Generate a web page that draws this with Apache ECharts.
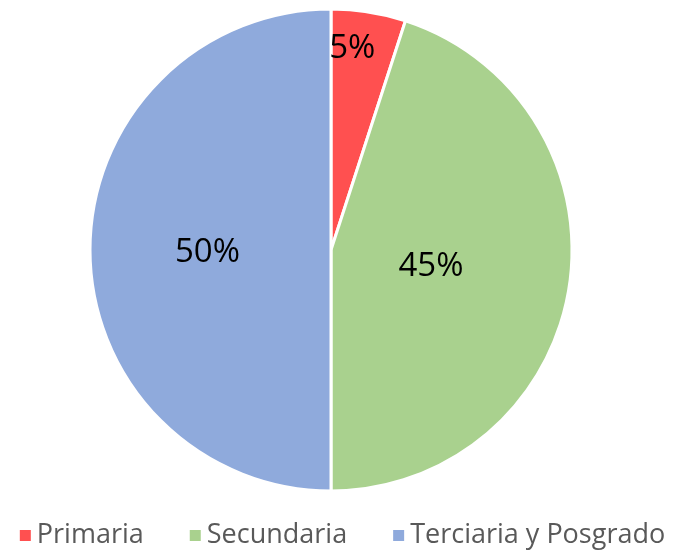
<!DOCTYPE html>
<html>
<head>
<meta charset="utf-8">
<script src="https://cdn.jsdelivr.net/npm/echarts@6/dist/echarts.min.js"></script>
<style>
  html, body { margin: 0; padding: 0; background: #fff; }
  #main { width: 683px; height: 552px; }
</style>
</head>
<body>
<div id="main"></div>
<script>
// datos
var categorias = ['Primaria', 'Secundaria', 'Terciaria y Posgrado'];
var valores = [5, 45, 50];
var colores = ['#ff5050', '#a9d18e', '#8faadc'];

var chart = echarts.init(document.getElementById('main'));

var datos = categorias.map(function (c, i) {
    return { name: c, value: valores[i], itemStyle: { color: colores[i] } };
});

var option = {
    animation: false,
    legend: {
        top: 517,
        left: 'center',
        icon: 'rect',
        itemWidth: 13,
        itemHeight: 13,
        itemGap: 44,
        textStyle: {
            fontFamily: 'Open Sans',
            fontSize: 27,
            color: '#595959'
        },
        data: categorias
    },
    series: [
        {
            type: 'pie',
            center: [331, 250],
            radius: [0, 241],
            startAngle: 90,
            clockwise: true,
            itemStyle: { borderColor: '#fff', borderWidth: 3 },
            label: {
                position: 'inside',
                formatter: '{d}%',
                fontFamily: 'Open Sans',
                fontSize: 33,
                color: '#000'
            },
            labelLine: { show: false },
            labelLayout: function (p) {
                // mover etiquetas como en el original
                if (p.dataIndex === 0) return { dx: 2, dy: -79 };
                if (p.dataIndex === 1) return { dx: -22, dy: -3 };
                return { dy: 3 };
            },
            emphasis: { disabled: true },
            data: datos
        }
    ]
};

chart.setOption(option);
</script>
</body>
</html>
